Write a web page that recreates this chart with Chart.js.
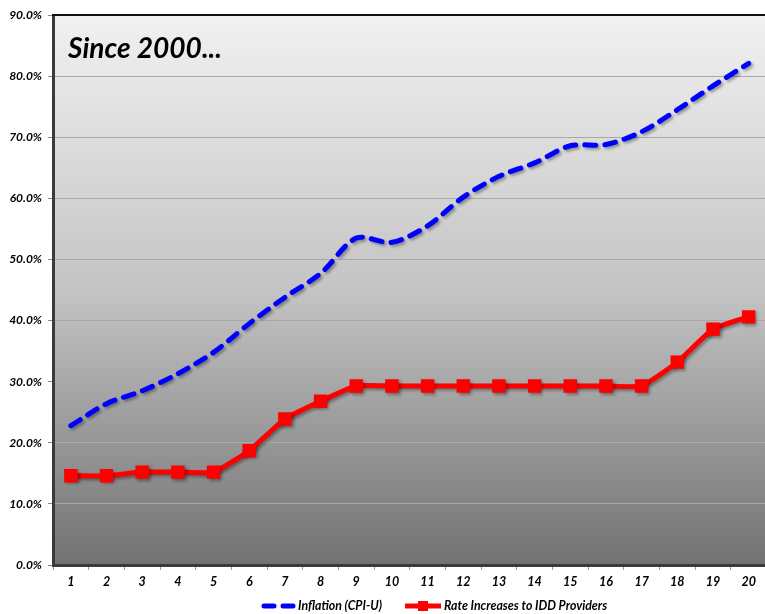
<!DOCTYPE html>
<html><head><meta charset="utf-8">
<script src="https://cdn.jsdelivr.net/npm/chart.js@4.4.1/dist/chart.umd.min.js"></script>
<style>
html,body{margin:0;padding:0;background:#fff;overflow:hidden;}
#wrap{width:765px;height:614px;overflow:hidden;position:relative;}
#box{width:776px;height:614px;position:absolute;left:0;top:0;}
</style></head><body>
<div id="wrap"><div id="box"><canvas id="c"></canvas></div></div>
<script>
const categories = ['1','2','3','4','5','6','7','8','9','10','11','12','13','14','15','16','17','18','19','20'];
const inflation = [22.8, 26.4, 28.5, 31.3, 34.8, 39.5, 43.8, 47.7, 53.5, 52.8, 55.5, 60.2, 63.6, 65.8, 68.6, 68.8, 70.9, 74.5, 78.4, 82.1];
const rateIncreases = [14.6, 14.6, 15.2, 15.2, 15.2, 18.7, 23.9, 26.8, 29.3, 29.3, 29.3, 29.3, 29.3, 29.3, 29.3, 29.3, 29.3, 33.2, 38.6, 40.6];
const seriesNames = ['Inflation (CPI-U)', 'Rate Increases to IDD Providers'];
const chartTitle = 'Since 2000...';

const FONT = 'Lato, "Open Sans", sans-serif';

function fitFont(ctx, text, targetWidth, base) {
  ctx.font = 'italic bold ' + base + 'px ' + FONT;
  const w = ctx.measureText(text).width;
  const size = base * targetWidth / w;
  return 'italic bold ' + size.toFixed(2) + 'px ' + FONT;
}

const bgPlugin = {
  id: 'bg',
  beforeDraw(chart) {
    const {ctx, chartArea: a} = chart;
    const g = ctx.createLinearGradient(0, a.top, 0, a.bottom);
    g.addColorStop(0, '#f1f1f1');
    g.addColorStop(0.5, '#c4c4c4');
    g.addColorStop(1, '#727272');
    ctx.save();
    ctx.fillStyle = g;
    ctx.fillRect(a.left, a.top, a.right - a.left, a.bottom - a.top);
    ctx.restore();
  }
};

const shadowPlugin = {
  id: 'shadow',
  beforeDatasetsDraw(chart) {
    const ctx = chart.ctx;
    ctx.save();
    ctx.shadowColor = 'rgba(0,0,0,0.35)';
    ctx.shadowBlur = 3;
    ctx.shadowOffsetX = 2;
    ctx.shadowOffsetY = 2;
  },
  afterDatasetsDraw(chart) {
    chart.ctx.restore();
  }
};

const overlayPlugin = {
  id: 'overlay',
  afterDraw(chart) {
    const {ctx, chartArea: a} = chart;
    ctx.save();
    // title inside plot
    ctx.fillStyle = '#000';
    ctx.font = fitFont(ctx, chartTitle, 154, 28);
    ctx.textBaseline = 'alphabetic';
    ctx.textAlign = 'left';
    ctx.fillText(chartTitle, a.left + 15, a.top + 43);
    // top frame line
    ctx.strokeStyle = '#111';
    ctx.lineWidth = 2;
    ctx.beginPath();
    ctx.moveTo(a.left - 1, a.top);
    ctx.lineTo(a.right, a.top);
    ctx.stroke();
    // legend
    const y = 606;
    ctx.font = fitFont(ctx, seriesNames[0], 84, 11);
    ctx.textBaseline = 'middle';
    // blue dashed symbol
    ctx.strokeStyle = '#0000ff';
    ctx.lineWidth = 5;
    ctx.lineCap = 'round';
    ctx.beginPath(); ctx.moveTo(264, y); ctx.lineTo(274, y); ctx.stroke();
    ctx.beginPath(); ctx.moveTo(283, y); ctx.lineTo(293, y); ctx.stroke();
    ctx.fillStyle = '#000';
    ctx.fillText(seriesNames[0], 298, y);
    // red symbol
    ctx.strokeStyle = '#ff0000';
    ctx.lineCap = 'butt';
    ctx.beginPath(); ctx.moveTo(405, y); ctx.lineTo(441, y); ctx.stroke();
    ctx.fillStyle = '#ff0000';
    ctx.fillRect(418, y - 5, 10, 10);
    ctx.fillStyle = '#000';
    ctx.fillText(seriesNames[1], 444, y);
    ctx.restore();
  }
};

new Chart(document.getElementById('c'), {
  type: 'line',
  data: {
    labels: categories,
    datasets: [
      {
        label: seriesNames[0],
        data: inflation,
        borderColor: '#0000ff',
        backgroundColor: '#0000ff',
        borderWidth: 5,
        borderDash: [11, 9],
        borderCapStyle: 'round',
        tension: 0.3,
        pointRadius: 0,
        pointHoverRadius: 0
      },
      {
        label: seriesNames[1],
        data: rateIncreases,
        borderColor: '#ff0000',
        backgroundColor: '#ff0000',
        borderWidth: 5,
        tension: 0.15,
        pointStyle: 'rect',
        pointRadius: 9.5,
        pointBorderWidth: 0,
        pointBackgroundColor: '#ff0000'
      }
    ]
  },
  options: {
    responsive: true,
    maintainAspectRatio: false,
    animation: false,
    layout: { padding: { top: 15, right: 0, bottom: 0, left: 0 } },
    plugins: {
      legend: { display: false },
      tooltip: { enabled: false },
      title: { display: false }
    },
    scales: {
      x: {
        offset: true,
        grid: { offset: true, drawOnChartArea: false, drawTicks: true, tickLength: 5, color: '#999' },
        border: { color: '#3a3a3a', width: 3 },
        ticks: { color: '#000', font: { family: FONT, size: 12.5, style: 'italic', weight: 'bold' }, padding: 4, maxRotation: 0, autoSkip: false },
        afterFit(s) { s.height = 49; }
      },
      y: {
        min: 0, max: 90,
        grid: {
          color: '#a9a9a9',
          lineWidth: 1,
          drawTicks: true,
          tickLength: 5,
          tickColor: '#888'
        },
        border: { color: '#3a3a3a', width: 3 },
        ticks: {
          stepSize: 10,
          color: '#000',
          padding: 6,
          font: { family: FONT, size: 12, style: 'italic', weight: 'bold' },
          callback: (v) => v.toFixed(1) + '%'
        },
        afterFit(s) { s.width = 53; }
      }
    }
  },
  plugins: [bgPlugin, shadowPlugin, overlayPlugin]
});
</script>
</body></html>
